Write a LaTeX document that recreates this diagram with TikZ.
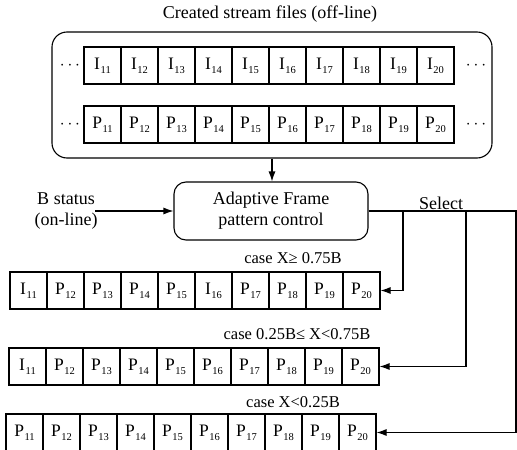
\documentclass[tikz,border=0pt]{standalone}
\usepackage{fontspec}
\setmainfont{Liberation Serif}
\usetikzlibrary{arrows.meta}
\newcommand{\fr}[2]{#1\kern0.6pt\raisebox{-4pt}{\fontsize{10.5}{10.5}\selectfont #2}}
\begin{document}
\begin{tikzpicture}[x=1pt,y=-1pt,line width=1.1pt,
  frame/.style={draw,minimum width=37pt,minimum height=37pt,inner sep=0pt,
    font=\fontsize{17.5}{17.5}\selectfont},
  bigtxt/.style={font=\fontsize{18}{21}\selectfont,align=center,inner sep=0pt},
  casetxt/.style={font=\fontsize{16.5}{18}\selectfont,inner sep=0pt},
  dotstxt/.style={font=\fontsize{16}{16}\selectfont,inner sep=0pt},
  arr/.style={-{Latex[length=10pt,width=7pt]}}]
\useasboundingbox (0,0) rectangle (517,450);
% title and off-line container
\node[bigtxt] (title) at (270,14) {Created stream files (off-line)};
\node[draw,rounded corners=15pt,minimum width=440pt,minimum height=126pt,inner sep=0pt] (files) at (272,95) {};
% top rows
\foreach \k [count=\i from 0] in {11,...,20}{
  \node[frame] (i\k) at ({84+18.5+37*\i},65.5) {\fr{I}{\k}};
  \node[frame] (p\k) at ({84+18.5+37*\i},124.5) {\fr{P}{\k}};
}
\node[dotstxt] (dil) at (70,66) {$\cdots$};
\node[dotstxt] (dir) at (476,66) {$\cdots$};
\node[dotstxt] (dpl) at (70,125) {$\cdots$};
\node[dotstxt] (dpr) at (476,125) {$\cdots$};
% control box
\node[draw,rounded corners=12pt,minimum width=194pt,minimum height=58pt,bigtxt] (ctrl) at (271,211) {Adaptive Frame\\pattern control};
\draw[arr] (files.south) -- (files.south |- ctrl.north);
% B status
\node[bigtxt] (bstat) at (66,211) {B status\\(on-line)};
\coordinate (bin) at (95,211);
\draw[arr] (bin) -- (ctrl.west);
% select line
\coordinate (selend) at (517,211);
\draw (ctrl.east) -- (selend);
\node[bigtxt,anchor=south] (sel) at (441,210) {Select};
% result rows
\foreach \lab/\k [count=\i from 0] in {I/11,P/12,P/13,P/14,P/15,I/16,P/17,P/18,P/19,P/20}{
  \node[frame] (a\k) at ({10+18.5+37*\i},290.5) {\fr{\lab}{\k}};
}
\foreach \lab/\k [count=\i from 0] in {I/11,P/12,P/13,P/14,P/15,P/16,P/17,P/18,P/19,P/20}{
  \node[frame] (b\k) at ({9+18.5+37*\i},366.5) {\fr{\lab}{\k}};
}
\foreach \lab/\k [count=\i from 0] in {P/11,P/12,P/13,P/14,P/15,P/16,P/17,P/18,P/19,P/20}{
  \node[frame] (c\k) at ({6+18.5+37*\i},432.5) {\fr{\lab}{\k}};
}
\node[casetxt] (case1) at (293,258) {case X≥ 0.75B};
\node[casetxt] (case2) at (297,334) {case 0.25B≤ X<0.75B};
\node[casetxt] (case3) at (293,402) {case X<0.25B};
% branches
\coordinate (s1) at (403,211);
\coordinate (s2) at (466,211);
\coordinate (s3) at (516,211);
\draw[arr] (s1) |- (a20.east);
\draw[arr] (s2) |- (b20.east);
\draw[arr] (s3) |- (c20.east);
\end{tikzpicture}
\end{document}
